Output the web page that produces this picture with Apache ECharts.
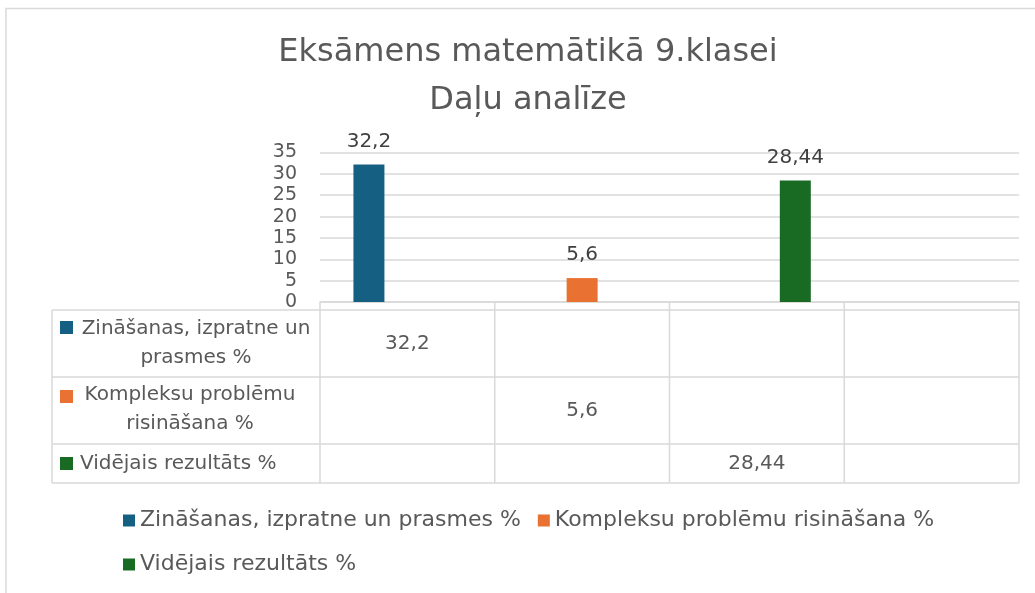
<!DOCTYPE html>
<html>
<head>
<meta charset="utf-8">
<script src="https://cdn.jsdelivr.net/npm/echarts@6/dist/echarts.min.js"></script>
<style>
html, body { margin: 0; padding: 0; background: #fff; }
#chart { width: 1035px; height: 593px; }
</style>
</head>
<body>
<div id="chart"></div>
<script>
// dati no diagrammas
var categories = ['', '', '', ''];
var seriesNames = ['Zināšanas, izpratne un prasmes %', 'Kompleksu problēmu risināšana %', 'Vidējais rezultāts %'];
var tableLabels = ['Zināšanas, izpratne un\nprasmes %', 'Kompleksu problēmu\nrisināšana %', 'Vidējais rezultāts %'];
var zinasanas = [32.2, null, null, null];
var kompleksu = [null, 5.6, null, null];
var videjais = [null, null, 28.44, null];
var yMin = 0, yMax = 35, yStep = 5;

var colors = ['#156082', '#E97132', '#196B24'];
var allData = [zinasanas, kompleksu, videjais];
var font = 'DejaVu Sans';
var grayText = '#595959';
var lineGray = '#D9D9D9';

// tabulas rindu robežas (attālums no x ass)
var rowEdges = [8, 75, 142, 181];

function fmt(v) {
	return String(v).replace('.', ',');
}

var myChart = echarts.init(document.getElementById('chart'));

var barSeries = allData.map(function (d, i) {
	return {
		name: seriesNames[i],
		type: 'bar',
		data: d,
		barWidth: 31,
		barGap: '24%',
		itemStyle: { color: colors[i] },
		label: {
			show: true,
			position: 'top',
			distance: 13,
			fontFamily: font,
			fontSize: 20,
			color: '#404040',
			formatter: function (p) { return fmt(p.value); }
		}
	};
});

// datu tabula zem ass
var tableSeries = {
	type: 'custom',
	silent: true,
	clip: false,
	data: categories.map(function (c, i) { return [i, 0]; }),
	encode: { x: 0, y: 1 },
	renderItem: function (params, api) {
		var idx = api.value(0);
		var c = api.coord([idx, 0]);
		var w = api.size([1, 0])[0];
		var x0 = c[0] - w / 2, x1 = c[0] + w / 2, y = c[1];
		var ls = { stroke: lineGray, lineWidth: 1.5 };
		var ch = [];
		ch.push({ type: 'line', shape: { x1: x0, y1: y, x2: x0, y2: y + rowEdges[3] }, style: ls });
		if (idx === categories.length - 1) {
			ch.push({ type: 'line', shape: { x1: x1, y1: y, x2: x1, y2: y + rowEdges[3] }, style: ls });
		}
		rowEdges.forEach(function (r) {
			ch.push({ type: 'line', shape: { x1: x0, y1: y + r, x2: x1, y2: y + r }, style: ls });
		});
		allData.forEach(function (d, s) {
			if (d[idx] != null) {
				ch.push({
					type: 'text',
					style: {
						x: c[0], y: y + (rowEdges[s] + rowEdges[s + 1]) / 2,
						text: fmt(d[idx]), align: 'center', verticalAlign: 'middle',
						fontFamily: font, fontSize: 20, fill: grayText
					}
				});
			}
		});
		return { type: 'group', children: ch };
	}
};

// tabulas kreisā kolonna
var headLeft = 52, headRight = 320;
var headGraphic = [];
[310, 377, 444, 483].forEach(function (yy) {
	headGraphic.push({ type: 'line', shape: { x1: headLeft, y1: yy, x2: headRight, y2: yy }, style: { stroke: lineGray, lineWidth: 1.5 } });
});
headGraphic.push({ type: 'line', shape: { x1: headLeft, y1: 310, x2: headLeft, y2: 483 }, style: { stroke: lineGray, lineWidth: 1.5 } });
var keyY = [321, 390, 457];
var textPos = [[196, 343.5, 'center'], [190, 409, 'center'], [80, 463.5, 'left']];
tableLabels.forEach(function (t, i) {
	headGraphic.push({ type: 'rect', shape: { x: 60, y: keyY[i], width: 13, height: 13 }, style: { fill: colors[i] } });
	headGraphic.push({
		type: 'text', x: textPos[i][0], y: textPos[i][1],
		style: { text: t, align: textPos[i][2], verticalAlign: 'middle', fontFamily: font, fontSize: 20, lineHeight: 29, fill: grayText }
	});
});

var option = {
	backgroundColor: '#fff',
	animation: false,
	graphic: [
		{ type: 'rect', shape: { x: 6, y: 8.5, width: 1060, height: 620 }, style: { fill: 'none', stroke: lineGray, lineWidth: 1.5 } },
		{
			type: 'text', x: 528, y: 77,
			style: {
				text: 'Eksāmens matemātikā 9.klasei\nDaļu analīze',
				align: 'center', verticalAlign: 'middle',
				fontFamily: font, fontSize: 32, lineHeight: 48, fill: grayText
			}
		}
	].concat(headGraphic),
	legend: {
		data: seriesNames,
		left: 118,
		top: 502,
		width: 820,
		icon: 'rect',
		itemWidth: 12,
		itemHeight: 12,
		itemGap: 17,
		textStyle: { fontFamily: font, fontSize: 22, color: grayText, lineHeight: 27 }
	},
	grid: { left: 320, right: 16, top: 152.5, bottom: 291 },
	xAxis: {
		type: 'category',
		data: categories,
		axisLine: { show: true, lineStyle: { color: lineGray, width: 1.5 } },
		axisTick: { show: false },
		axisLabel: { show: false }
	},
	yAxis: {
		type: 'value',
		min: yMin,
		max: yMax,
		interval: yStep,
		axisLine: { show: false },
		axisTick: { show: false },
		axisLabel: { fontFamily: font, fontSize: 19, color: grayText, margin: 23 },
		splitLine: { lineStyle: { color: lineGray, width: 1.5 } }
	},
	series: barSeries.concat([tableSeries])
};

myChart.setOption(option);
</script>
</body>
</html>
